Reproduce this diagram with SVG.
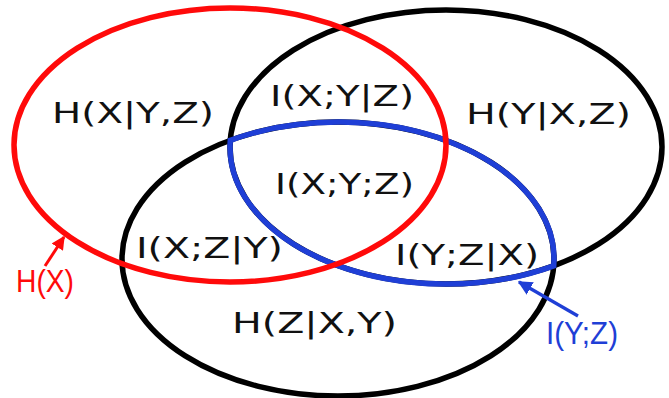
<svg xmlns="http://www.w3.org/2000/svg" width="669" height="398" viewBox="0 0 669 398">
  <style>
    .set { fill: none; stroke-width: 5.5; }
    .blk { stroke: #000; }
    .red { stroke: #ff0a0a; }
    .blu { stroke: #1f3fd6; }
    .lbl { font-family: "DejaVu Sans", "Liberation Sans", sans-serif; font-size: 29px; fill: #111; }
    .tag { font-family: "Liberation Sans", Arial, sans-serif; font-size: 32px; }
  </style>
  <defs>
    <marker id="ahR" viewBox="0 0 10 10" refX="9" refY="5" markerWidth="4.5" markerHeight="4.5" orient="auto" markerUnits="strokeWidth">
      <path d="M0,0 L10,5 L0,10 Z" fill="#ff0a0a"/>
    </marker>
    <marker id="ahB" viewBox="0 0 10 10" refX="9" refY="5" markerWidth="4.5" markerHeight="4.5" orient="auto" markerUnits="strokeWidth">
      <path d="M0,0 L10,5 L0,10 Z" fill="#1f3fd6"/>
    </marker>
  </defs>

  <g id="set-Y">
    <ellipse class="set blk" cx="446" cy="147" rx="216" ry="137"/>
  </g>
  <g id="set-Z">
    <ellipse class="set blk" cx="338" cy="259" rx="216" ry="137"/>
  </g>
  <g id="set-IYZ">
    <path class="set blu" d="M230.3,140.3 A216,137 0 0 1 553.7,265.8 A216,137 0 0 1 230.3,140.3 Z"/>
  </g>
  <g id="set-X">
    <ellipse class="set red" cx="230" cy="145" rx="216" ry="137"/>
  </g>

  <g id="labels">
    <text class="lbl" x="52" y="123" textLength="162" lengthAdjust="spacingAndGlyphs">H(X|Y,Z)</text>
    <text class="lbl" x="270" y="106" textLength="144" lengthAdjust="spacingAndGlyphs">I(X;Y|Z)</text>
    <text class="lbl" x="466" y="124" textLength="165" lengthAdjust="spacingAndGlyphs">H(Y|X,Z)</text>
    <text class="lbl" x="275" y="194" textLength="139" lengthAdjust="spacingAndGlyphs">I(X;Y;Z)</text>
    <text class="lbl" x="136" y="258" textLength="147" lengthAdjust="spacingAndGlyphs">I(X;Z|Y)</text>
    <text class="lbl" x="395" y="265" textLength="144" lengthAdjust="spacingAndGlyphs">I(Y;Z|X)</text>
    <text class="lbl" x="232" y="333" textLength="165" lengthAdjust="spacingAndGlyphs">H(Z|X,Y)</text>
  </g>

  <g id="tag-HX">
    <text class="tag" x="16" y="292" fill="#ff0a0a" textLength="58" lengthAdjust="spacingAndGlyphs">H(X)</text>
  </g>
  <g id="tag-IYZ">
    <text class="tag" x="546" y="344" fill="#1f3fd6" textLength="72" lengthAdjust="spacingAndGlyphs">I(Y;Z)</text>
  </g>

  <g id="connectors">
    <line x1="45" y1="266" x2="64" y2="237" stroke="#ff0a0a" stroke-width="3" marker-end="url(#ahR)"/>
    <line x1="578" y1="316" x2="519" y2="282" stroke="#1f3fd6" stroke-width="3.2" marker-end="url(#ahB)"/>
  </g>
</svg>
